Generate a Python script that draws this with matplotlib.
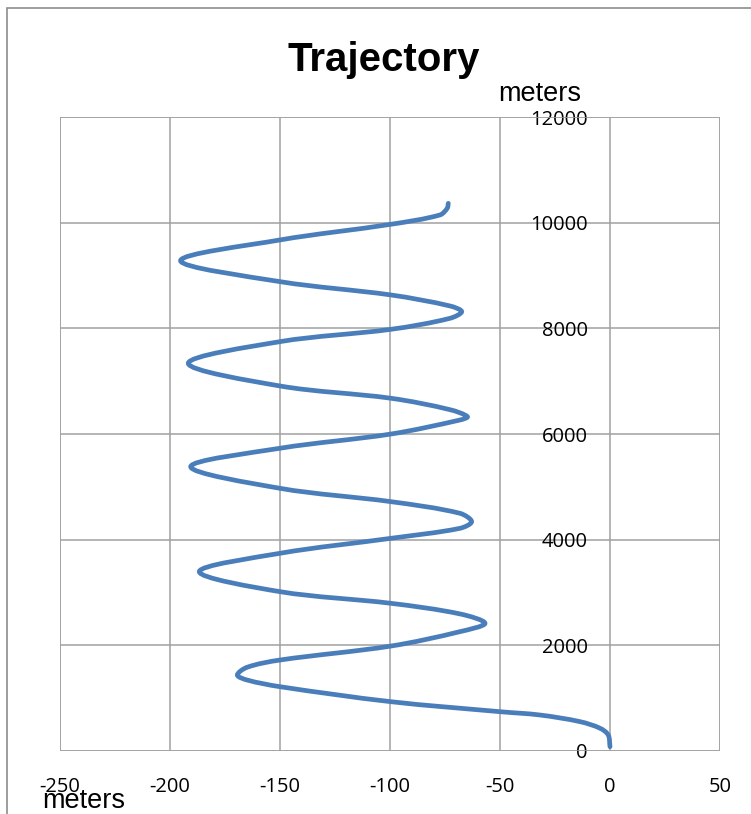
import numpy as np
import matplotlib
matplotlib.use("Agg")
from matplotlib import pyplot as plt
from matplotlib.path import Path
from matplotlib.patches import PathPatch, Rectangle

# lateral offset (m) vs altitude (m) along the flight path
offset_m = [0.0, -0.8, -4.5, -13.6, -31.8, -50.0, -99.5, -150.0, -165.0, -169.4, -165.0,
            -150.0, -99.5, -68.2, -56.8, -68.0, -99.5, -150.0, -186.7,
            -150.0, -99.5, -68.2, -62.9, -68.2, -99.5, -150.0, -190.6,
            -150.0, -99.5, -68.2, -64.8, -72.7, -99.5, -150.0, -191.7,
            -150.0, -99.5, -72.7, -67.4, -72.7, -99.5, -150.0, -195.2,
            -150.0, -99.5, -77.3, -74.0, -73.5]
altitude_m = [81, 303, 430, 555, 681, 744, 933, 1217, 1344, 1438, 1584,
              1722, 1987, 2259, 2417, 2593, 2795, 3016, 3394,
              3742, 4026, 4215, 4341, 4499, 4719, 4972, 5381,
              5730, 6000, 6265, 6328, 6460, 6676, 6909, 7338,
              7748, 7982, 8190, 8316, 8423, 8631, 8884, 9281,
              9673, 9970, 10146, 10272, 10366]

x_ticks = [-250, -200, -150, -100, -50, 0, 50]
y_ticks = [0, 2000, 4000, 6000, 8000, 10000, 12000]

W, H = 751, 814
plt.rcParams['font.family'] = ['Liberation Sans', 'DejaVu Sans']
plt.rcParams['axes.unicode_minus'] = False
fig = plt.figure(figsize=(W / 100, H / 100), dpi=100)

# chart area frame
fig.patches.append(Rectangle((7 / W, -0.1), 1.2, 1.1 - 8 / H, transform=fig.transFigure,
                             fill=False, edgecolor='#8c8c8c', linewidth=1.2))

ax = fig.add_axes([60 / W, (H - 751) / H, 660 / W, (751 - 117) / H])
ax.set_xlim(-250, 50)
ax.set_ylim(0, 12000)
ax.set_xticks(x_ticks)
ax.set_yticks(y_ticks)
ax.grid(True, color='#a0a0a0', linewidth=1.1)
ax.set_axisbelow(True)
for s in ax.spines.values():
    s.set_visible(False)
ax.spines['left'].set_position(('data', 0))
ax.add_patch(Rectangle((0, 0), 1, 1, transform=ax.transAxes, fill=False,
                       edgecolor='#a0a0a0', linewidth=1.1, zorder=1))
ax.tick_params(axis='x', length=0, pad=19)
ax.tick_params(axis='y', length=0, pad=16)
for lab in ax.get_xticklabels() + ax.get_yticklabels():
    lab.set_fontfamily('Open Sans')
    lab.set_fontsize(14.5)

# smoothed line: chord-length Catmull-Rom converted to cubic Bezier segments,
# distances measured in screen units so both axes count the same
fig.canvas.draw()
pts = np.column_stack([offset_m, altitude_m]).astype(float)
P = ax.transData.transform(pts)
d = np.linalg.norm(np.diff(P, axis=0), axis=1)
n = len(P)
m = np.zeros_like(P)
m[0] = (P[1] - P[0]) / d[0]
m[-1] = (P[-1] - P[-2]) / d[-1]
for k in range(1, n - 1):
    m[k] = (P[k + 1] - P[k - 1]) / (d[k - 1] + d[k])
verts = [P[0]]
codes = [Path.MOVETO]
for i in range(n - 1):
    verts += [P[i] + m[i] * d[i] / 3, P[i + 1] - m[i + 1] * d[i] / 3, P[i + 1]]
    codes += [Path.CURVE4] * 3
verts = ax.transData.inverted().transform(np.array(verts))
ax.add_patch(PathPatch(Path(verts, codes), facecolor='none', edgecolor='#4a7ebb',
                       linewidth=3.4, capstyle='round', joinstyle='round', zorder=3))

fig.text(384 / W, 1 - 60 / H, 'Trajectory', ha='center', va='center',
         fontsize=29, fontweight='bold')
fig.text(540 / W, 1 - 94 / H, 'meters', ha='center', va='center', fontsize=19.5)
fig.text(84 / W, 1 - 801 / H, 'meters', ha='center', va='center', fontsize=19.5)

fig.savefig('out.png', dpi=100)
